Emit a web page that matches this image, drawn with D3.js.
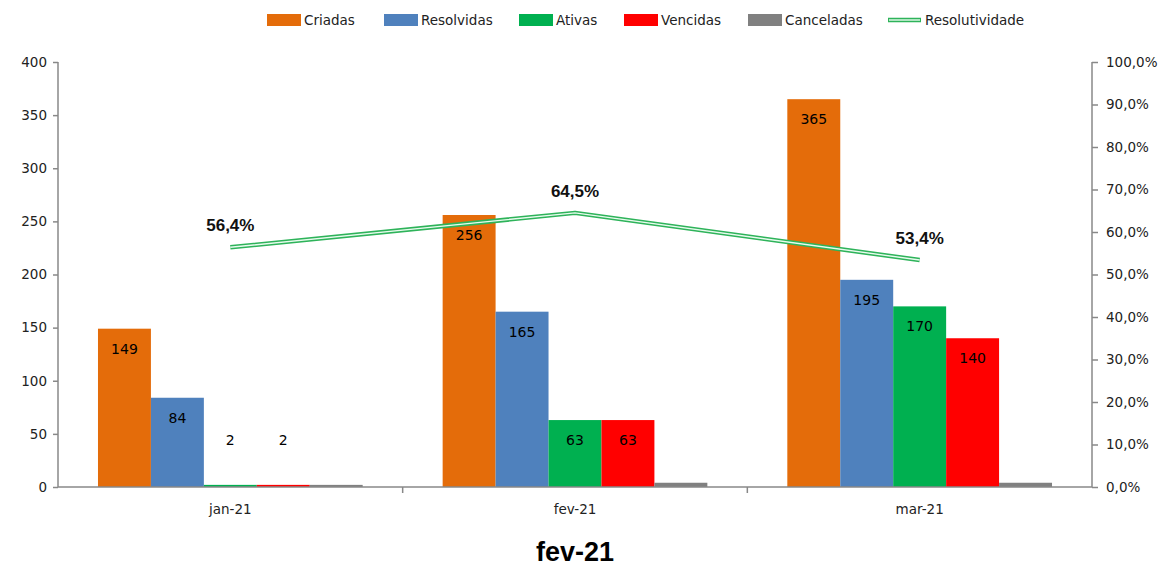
<!DOCTYPE html>
<html><head><meta charset="utf-8">
<script src="https://cdn.jsdelivr.net/npm/d3@7"></script>
<style>
body{margin:0;background:#fff;}
svg{display:block;font-family:"DejaVu Sans",Verdana,sans-serif;}
</style></head>
<body>
<svg id="c" width="1164" height="571"></svg>
<script>
const categories = ["jan-21","fev-21","mar-21"];
const seriesNames = ["Criadas","Resolvidas","Ativas","Vencidas","Canceladas"];
const criadas = [149,256,365];
const resolvidas = [84,165,195];
const ativas = [2,63,170];
const vencidas = [2,63,140];
const canceladas = [2,4,4];
const resolutividade = [0.564,0.645,0.534];
const leftTicks = [0,50,100,150,200,250,300,350,400];
const rightTicks = [0,0.1,0.2,0.3,0.4,0.5,0.6,0.7,0.8,0.9,1.0];
const title = "fev-21";
const lineName = "Resolutividade";
const colors = ["#E46C0A","#4F81BD","#00B050","#FF0000","#808080"];

const seriesValues = [criadas,resolvidas,ativas,vencidas,canceladas];
const showLabels = [true,true,true,true,false];

const svg = d3.select("#c");
const L = 58, R = 1092, T = 62, B = 487;
const axisColor = "#888";
const DV = "'DejaVu Sans', Verdana, sans-serif";
const LS = "'Liberation Sans', Arial, sans-serif";

const x0 = d3.scaleBand().domain(categories).range([L,R]).paddingInner(0.232).paddingOuter(0.116);
const x1 = d3.scaleBand().domain(seriesNames).range([0,x0.bandwidth()]);
const y = d3.scaleLinear().domain([0,400]).range([B,T]);
const y2 = d3.scaleLinear().domain([0,1]).range([B,T]);

// bars
seriesNames.forEach((s,si)=>{
  const g = svg.append("g");
  categories.forEach((c,ci)=>{
    const v = seriesValues[si][ci];
    g.append("rect")
      .attr("x", x0(c)+x1(s))
      .attr("y", y(v))
      .attr("width", x1.bandwidth())
      .attr("height", B - y(v))
      .attr("fill", colors[si]);
    if (showLabels[si]) {
      const h = B - y(v);
      const ly = h < 40 ? B - 42 : y(v) + 25;
      g.append("text")
        .attr("x", x0(c)+x1(s)+x1.bandwidth()/2)
        .attr("y", ly)
        .attr("text-anchor","middle")
        .style("font-family", DV).style("font-size","14px")
        .attr("fill","#000")
        .text(v);
    }
  });
});

// left axis
const la = svg.append("g").attr("transform",`translate(${L},0)`)
  .call(d3.axisLeft(y).tickValues(leftTicks).tickSize(5).tickPadding(6));
la.selectAll("path,line").attr("stroke",axisColor).attr("stroke-width",1.5);
la.select(".domain").attr("d",`M0,${T}V${B}`);
la.selectAll("text").style("font-size","13.5px").style("font-family",DV).attr("fill","#222");

// right axis
const ra = svg.append("g").attr("transform",`translate(${R},0)`)
  .call(d3.axisRight(y2).tickValues(rightTicks).tickSize(6).tickPadding(8)
    .tickFormat(d => d3.format(".1f")(d*100).replace(".",",")+"%"));
ra.selectAll("path,line").attr("stroke",axisColor).attr("stroke-width",1.5);
ra.select(".domain").attr("d",`M0,${T}V${B}`);
ra.selectAll("text").style("font-size","13.5px").style("font-family",DV).attr("fill","#222");

// x axis
const xa = svg.append("g").attr("transform",`translate(0,${B})`)
  .call(d3.axisBottom(x0).tickSize(0).tickPadding(17));
xa.select(".domain").attr("d",`M${L},0H${R}`).attr("stroke",axisColor).attr("stroke-width",1.5);
xa.selectAll("text").style("font-size","13.5px").style("font-family",DV).attr("fill","#222");
const step = x0.step();
svg.append("g").selectAll("line").data(categories.slice(1)).join("line")
  .attr("x1", c => x0(c) - x0.paddingInner()*step/2)
  .attr("x2", c => x0(c) - x0.paddingInner()*step/2)
  .attr("y1", B).attr("y2", B+6)
  .attr("stroke", axisColor).attr("stroke-width",1.5);

// line
const pts = categories.map((c,i)=>[x0(c)+x0.bandwidth()/2, y2(resolutividade[i])]);
const line = d3.line();
svg.append("path").attr("d",line(pts)).attr("fill","none").attr("stroke","#2EB35A").attr("stroke-width",4.5).attr("stroke-linejoin","round");
svg.append("path").attr("d",line(pts)).attr("fill","none").attr("stroke","#E8FBEE").attr("stroke-width",1.4).attr("stroke-linejoin","round");
pts.forEach((p,i)=>{
  svg.append("text").attr("x",p[0]).attr("y",p[1]-16)
    .attr("text-anchor","middle")
    .style("font-family",LS).style("font-weight","bold").style("font-size","17px")
    .attr("fill","#111")
    .text(d3.format(".1f")(resolutividade[i]*100).replace(".",",")+"%");
});

// legend
const legX = [267,384,519,624,748];
seriesNames.forEach((s,i)=>{
  svg.append("rect").attr("x",legX[i]).attr("y",14).attr("width",34).attr("height",12).attr("fill",colors[i]);
  svg.append("text").attr("x",legX[i]+37).attr("y",25).style("font-size","13.5px").style("font-family",DV).attr("fill","#222").text(s);
});
svg.append("line").attr("x1",888).attr("x2",921).attr("y1",20).attr("y2",20).attr("stroke","#2EB35A").attr("stroke-width",4.5);
svg.append("line").attr("x1",889).attr("x2",920).attr("y1",20).attr("y2",20).attr("stroke","#E8FBEE").attr("stroke-width",1.4);
svg.append("text").attr("x",925).attr("y",25).style("font-size","13.5px").style("font-family",DV).attr("fill","#222").text(lineName);

// title
svg.append("text").attr("x",(L+R)/2).attr("y",561).attr("text-anchor","middle")
  .style("font-family",LS).style("font-weight","bold").style("font-size","27px")
  .attr("fill","#000").text(title);
</script>
</body></html>
